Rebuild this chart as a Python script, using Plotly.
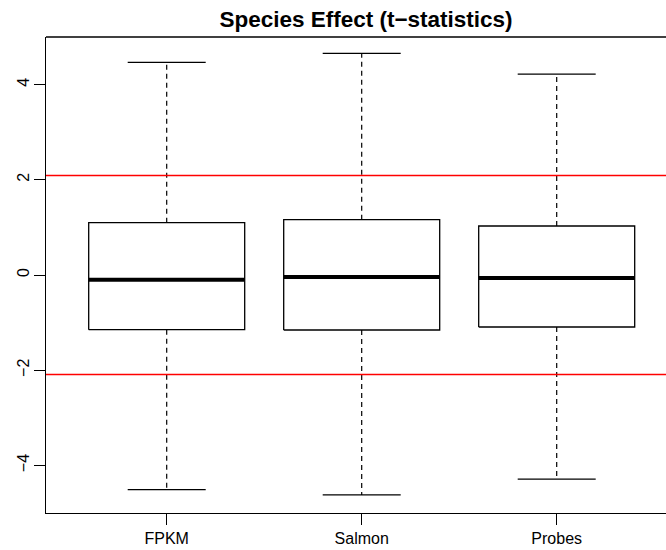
import plotly.graph_objects as go

# Summary statistics of the t-statistics per quantification method
categories = ["FPKM", "Salmon", "Probes"]
lower_whisker = [-4.51, -4.62, -4.29]
q1 = [-1.149, -1.155, -1.092]
median = [-0.099, -0.042, -0.063]
q3 = [1.10, 1.162, 1.029]
upper_whisker = [4.468, 4.658, 4.22]

# Significance thresholds (red reference lines)
thresholds = [2.09, -2.09]

positions = [1, 2, 3]
half_box = 0.4
half_cap = 0.2
x_range = [0.381, 3.5605]

fig = go.Figure()

for pos, lo, a, m, b, hi in zip(positions, lower_whisker, q1, median, q3, upper_whisker):
    # dashed whiskers
    for y0, y1 in ((b, hi), (a, lo)):
        fig.add_trace(go.Scatter(
            x=[pos, pos], y=[y0, y1], mode="lines",
            line=dict(color="black", width=1.2, dash="5px,4px"),
            hoverinfo="skip", showlegend=False))
    # whisker caps
    for y in (lo, hi):
        fig.add_trace(go.Scatter(
            x=[pos - half_cap, pos + half_cap], y=[y, y], mode="lines",
            line=dict(color="black", width=1.3),
            hoverinfo="skip", showlegend=False))
    # box
    fig.add_trace(go.Scatter(
        x=[pos - half_box, pos + half_box, pos + half_box, pos - half_box, pos - half_box],
        y=[a, a, b, b, a], mode="lines",
        line=dict(color="black", width=1.3),
        fill="toself", fillcolor="white",
        hoverinfo="skip", showlegend=False))
    # median
    fig.add_trace(go.Scatter(
        x=[pos - half_box, pos + half_box], y=[m, m], mode="lines",
        line=dict(color="black", width=4),
        hoverinfo="skip", showlegend=False))

# red threshold lines across the full plotting width
for t in thresholds:
    fig.add_trace(go.Scatter(
        x=x_range, y=[t, t], mode="lines",
        line=dict(color="#ff0000", width=1.3),
        hoverinfo="skip", showlegend=False, cliponaxis=False))

# top frame edge
fig.add_shape(type="line", xref="paper", yref="paper", x0=0, x1=1.05, y0=1, y1=1,
              line=dict(color="black", width=1.3))

font_family = "Liberation Sans, Arial, Helvetica, sans-serif"

fig.update_layout(
    width=666, height=550,
    margin=dict(l=46, r=0, t=37, b=37),
    paper_bgcolor="white", plot_bgcolor="white",
    font=dict(family=font_family, color="black", size=16),
    title=dict(text="<b>Species Effect (t\u2212statistics)</b>",
               x=366 / 666, xref="container", xanchor="center",
               y=1 - 19 / 550, yref="container", yanchor="middle",
               font=dict(size=22.5, family=font_family, color="black")),
    xaxis=dict(range=x_range, tickmode="array", tickvals=positions,
               ticktext=categories, showgrid=False, zeroline=False,
               showline=True, linecolor="black", linewidth=1.3,
               ticks="outside", ticklen=11, tickwidth=1.2, tickcolor="black",
               tickfont=dict(size=16)),
    yaxis=dict(range=[-5, 5], tickvals=[-4, -2, 0, 2, 4],
               showgrid=False, zeroline=False,
               showline=True, linecolor="black", linewidth=1.3,
               ticks="outside", ticklen=11, tickwidth=1.2, tickcolor="black",
               tickangle=-90, tickfont=dict(size=16), ticklabelstandoff=-2),
)

fig.write_html("out.html")
